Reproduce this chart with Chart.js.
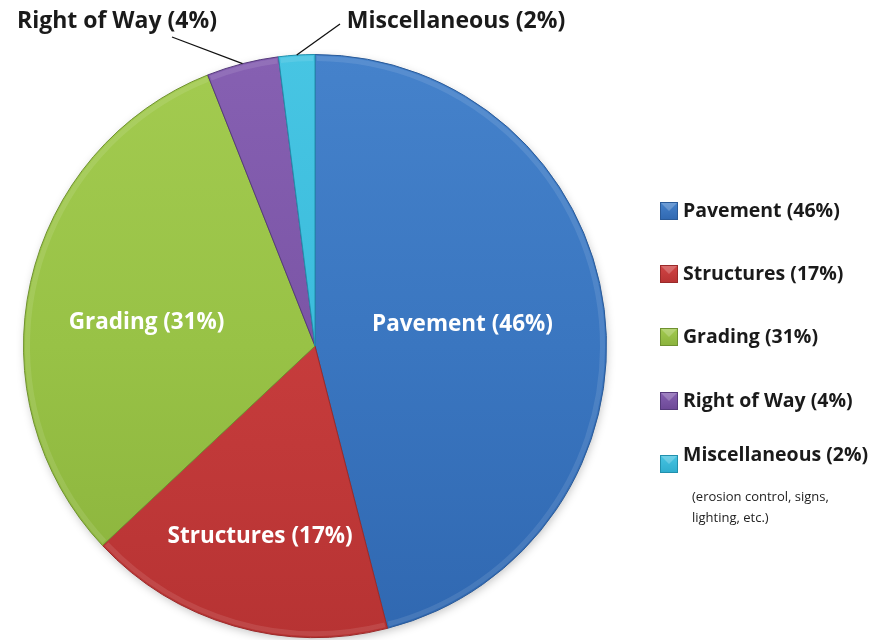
<!DOCTYPE html>
<html>
<head>
<meta charset="utf-8">
<script src="https://cdn.jsdelivr.net/npm/chart.js@4.4.1/dist/chart.umd.min.js"></script>
<style>
  html, body { margin: 0; padding: 0; background: #ffffff; }
  canvas { display: block; }
</style>
</head>
<body>
<canvas id="cost" width="884" height="640"></canvas>
<script>
// Share of construction cost by work item (percent)
const categories = ['Pavement', 'Structures', 'Grading', 'Right of Way', 'Miscellaneous'];
const shares = [46, 17, 31, 4, 2];
const legendNote = ['(erosion control, signs,', 'lighting, etc.)'];

// Slice colours: light (top of pie), base, dark (bottom of pie), outline
const lightColors = ['#4582cb', '#d24545', '#a3cb50', '#8660b2', '#47c5e3'];
const baseColors  = ['#3a76c0', '#c63c3c', '#98c246', '#7b55a6', '#3bbcdc'];
const darkColors  = ['#3068b1', '#b73333', '#8ab23c', '#6c4896', '#2eaccd'];
const edgeColors  = ['#2a5a98', '#9a2a2a', '#6f9130', '#553a7b', '#2190ad'];

const FONT = '"Open Sans", sans-serif';
const labelText = i => `${categories[i]} (${shares[i]}%)`;

// Label placement: inside labels sit at a fraction of the radius on the slice
// bisector (plus a small nudge); outside labels get a leader line from the rim.
const insideLabels = {
  0: { frac: 0.51, nudge: [0, -3] },
  1: { frac: 0.675, nudge: [0, 2] },
  2: { frac: 0.585, nudge: [-2, 14] }
};
const outsideLabels = {
  3: { lineEnd: [172, 37], text: [117, 21] },
  4: { lineEnd: [340, 24], text: [456, 21] }
};

function sliceGradient(ctx) {
  const chart = ctx.chart;
  const area = chart.chartArea;
  const i = ctx.dataIndex;
  if (!area) return baseColors[i];
  const g = chart.ctx.createLinearGradient(0, area.top, 0, area.bottom);
  g.addColorStop(0, lightColors[i]);
  g.addColorStop(0.5, baseColors[i]);
  g.addColorStop(1, darkColors[i]);
  return g;
}

const pieDecor = {
  id: 'pieDecor',
  beforeDatasetsDraw(chart) {
    const arc = chart.getDatasetMeta(0).data[0];
    if (!arc) return;
    const c = chart.ctx;
    c.save();
    c.shadowColor = 'rgba(0,0,0,0.25)';
    c.shadowBlur = 10;
    c.shadowOffsetX = 1;
    c.shadowOffsetY = 3;
    c.fillStyle = '#ffffff';
    c.beginPath();
    c.arc(arc.x, arc.y, arc.outerRadius - 1, 0, Math.PI * 2);
    c.fill();
    c.restore();
  },
  afterDatasetsDraw(chart) {
    const c = chart.ctx;
    const arcs = chart.getDatasetMeta(0).data;
    // faint rim highlight for a bevelled look
    arcs.forEach(a => {
      c.save();
      c.beginPath();
      c.arc(a.x, a.y, a.outerRadius - 4, a.startAngle + 0.006, a.endAngle - 0.006);
      c.strokeStyle = 'rgba(255,255,255,0.10)';
      c.lineWidth = 5;
      c.stroke();
      c.restore();
    });

    c.save();
    c.textBaseline = 'middle';
    c.textAlign = 'center';
    arcs.forEach((a, i) => {
      const mid = (a.startAngle + a.endAngle) / 2;
      if (insideLabels[i]) {
        const p = insideLabels[i];
        const r = a.outerRadius * p.frac;
        c.font = `bold 22.5px ${FONT}`;
        c.fillStyle = '#ffffff';
        c.fillText(labelText(i),
          a.x + Math.cos(mid) * r + p.nudge[0],
          a.y + Math.sin(mid) * r + p.nudge[1]);
      } else if (outsideLabels[i]) {
        const o = outsideLabels[i];
        const sx = a.x + Math.cos(mid) * a.outerRadius;
        const sy = a.y + Math.sin(mid) * a.outerRadius;
        c.beginPath();
        c.moveTo(sx, sy);
        c.lineTo(o.lineEnd[0], o.lineEnd[1]);
        c.strokeStyle = '#111111';
        c.lineWidth = 1.3;
        c.stroke();
        c.font = `bold 23px ${FONT}`;
        c.fillStyle = '#1a1a1a';
        c.fillText(labelText(i), o.text[0], o.text[1]);
      }
    });
    c.restore();
  }
};

// Legend drawn at the right of the pie
const sideLegend = {
  id: 'sideLegend',
  afterDraw(chart) {
    const c = chart.ctx;
    const rows = [211, 274, 337, 401, 455];
    const boxOffset = [0, 0, 0, 0, 9];
    const boxX = 660, box = 18, textX = 683;
    c.save();
    c.textBaseline = 'middle';
    c.textAlign = 'left';
    categories.forEach((name, i) => {
      const by = rows[i] - box / 2 + boxOffset[i];
      const g = c.createLinearGradient(0, by, 0, by + box);
      g.addColorStop(0, lightColors[i]);
      g.addColorStop(1, darkColors[i]);
      c.fillStyle = g;
      c.fillRect(boxX, by, box, box);
      c.strokeStyle = edgeColors[i];
      c.lineWidth = 1;
      c.strokeRect(boxX + 0.5, by + 0.5, box - 1, box - 1);
      // bevel highlight
      c.fillStyle = 'rgba(255,255,255,0.22)';
      c.beginPath();
      c.moveTo(boxX + 1, by + 1);
      c.lineTo(boxX + box - 1, by + 1);
      c.lineTo(boxX + box / 2, by + box / 2);
      c.closePath();
      c.fill();

      c.font = `bold 19.5px ${FONT}`;
      c.fillStyle = '#1a1a1a';
      c.fillText(labelText(i), textX, rows[i]);
    });
    c.font = `13px ${FONT}`;
    c.fillStyle = '#222222';
    legendNote.forEach((line, k) => c.fillText(line, 692, 497 + k * 21));
    c.restore();
  }
};

new Chart(document.getElementById('cost'), {
  type: 'pie',
  data: {
    labels: categories,
    datasets: [{
      data: shares,
      backgroundColor: sliceGradient,
      borderColor: edgeColors,
      borderWidth: 1
    }]
  },
  options: {
    responsive: false,
    animation: false,
    layout: { padding: { left: 23, right: 277, top: 54, bottom: 2 } },
    plugins: {
      legend: { display: false },
      tooltip: { enabled: false }
    }
  },
  plugins: [pieDecor, sideLegend]
});
</script>
</body>
</html>
